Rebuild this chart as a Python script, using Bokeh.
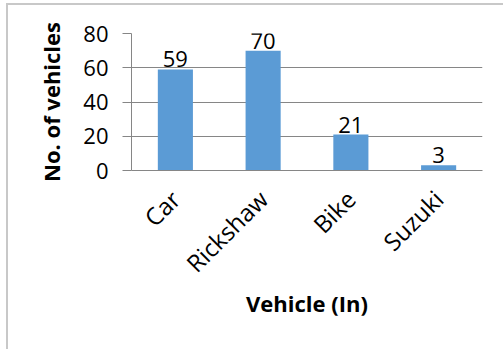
import math
from bokeh.plotting import figure
from bokeh.models import Range1d, FixedTicker, ColumnDataSource, LabelSet
from bokeh.core.properties import value
from bokeh.embed import file_html
from bokeh.resources import INLINE

categories = ["Car", "Rickshaw", "Bike", "Suzuki"]
counts = [59, 70, 21, 3]
y_ticks = [0, 20, 40, 60, 80]

FONT = "Open Sans"
src = ColumnDataSource(dict(cat=categories, val=counts, lab=[str(v) for v in counts]))

p = figure(x_range=categories, y_range=Range1d(0, 80), width=497, height=346,
           output_backend="svg", toolbar_location=None,
           min_border_left=123, min_border_right=23, min_border_top=28, min_border_bottom=181)
p.margin = (3, 0, 0, 6)
p.styles = {"border-left": "2px solid #c8c8c8", "border-top": "2px solid #c8c8c8"}
p.outline_line_color = None
p.background_fill_color = "white"

p.vbar(x="cat", top="val", width=0.4, source=src, fill_color="#5B9BD5", line_color=None)

labels = LabelSet(x="cat", y="val", text="lab", source=src, text_align="center",
                  text_baseline="bottom", y_offset=2, text_font=value(FONT),
                  text_font_size="22px", text_color="#000000")
p.add_layout(labels)

p.yaxis.ticker = FixedTicker(ticks=y_ticks)
p.ygrid.ticker = FixedTicker(ticks=y_ticks)
p.ygrid.grid_line_color = "#868686"
p.xgrid.grid_line_color = None
p.yaxis.minor_tick_line_color = None
p.yaxis.major_tick_out = 9
p.yaxis.major_tick_in = 0
p.yaxis.major_tick_line_color = "#868686"
p.yaxis.axis_line_color = "#868686"
p.xaxis.axis_line_color = "#868686"
p.xaxis.major_tick_line_color = None
p.xaxis.minor_tick_line_color = None
p.yaxis.major_label_text_font = FONT
p.yaxis.major_label_text_font_size = "22px"
p.yaxis.major_label_text_color = "#000000"
p.xaxis.major_label_text_font = FONT
p.xaxis.major_label_text_font_size = "24px"
p.xaxis.major_label_text_color = "#000000"
p.xaxis.major_label_orientation = math.pi / 4
p.xaxis.major_label_standoff = 18
p.yaxis.major_label_standoff = 14

p.xaxis.axis_label = "Vehicle (In)"
p.yaxis.axis_label = "No. of vehicles"
for ax in (p.xaxis, p.yaxis):
    ax.axis_label_text_font = FONT
    ax.axis_label_text_font_style = "bold"
    ax.axis_label_text_font_size = "22px"
    ax.axis_label_text_color = "#000000"
p.xaxis.axis_label_standoff = -6
p.yaxis.axis_label_standoff = 14

open("out.html", "w").write(file_html(p, INLINE))
